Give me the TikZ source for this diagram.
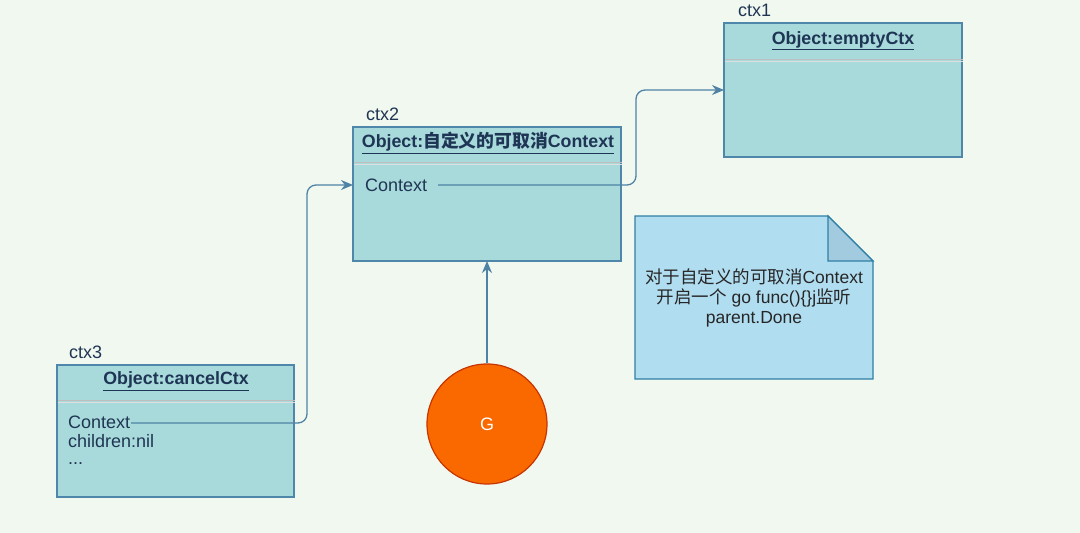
\documentclass[tikz,border=0pt]{standalone}
\usepackage{fontspec}
\setmainfont{Liberation Sans}
\newfontfamily\cjk{Noto Sans CJK SC}
\usetikzlibrary{arrows.meta}
\definecolor{bg}{HTML}{F1F8EF}
\definecolor{boxfill}{HTML}{A9DADB}
\definecolor{boxline}{HTML}{4F87AA}
\definecolor{titlecol}{HTML}{1E3555}
\definecolor{textcol}{HTML}{1F3553}
\definecolor{notefill}{HTML}{B1DDF0}
\definecolor{noteline}{HTML}{2F7FA6}
\definecolor{foldfill}{HTML}{A2CBDF}
\definecolor{gfill}{HTML}{FA6800}
\definecolor{gline}{HTML}{C73500}
\definecolor{conn}{HTML}{4E83A5}
\definecolor{sepdark}{HTML}{BEBEBE}
\definecolor{seplight}{HTML}{DEDEDE}
\tikzset{
  objbox/.style={draw=boxline, fill=boxfill, line width=1.2pt},
  sepline/.style={draw=sepdark, line width=1.6pt},
  seplite/.style={draw=seplight, line width=1.4pt},
  title/.style={font=\fontsize{17.8}{21}\selectfont\bfseries, text=titlecol, inner sep=0pt},
  field/.style={font=\fontsize{18}{21}\selectfont, text=textcol, inner sep=0pt, anchor=west},
  lbl/.style={font=\fontsize{18}{21}\selectfont, text=textcol, inner sep=0pt, anchor=west},
  conline/.style={draw=conn, line width=1.3pt, rounded corners=9pt},
  arr/.style={-{Stealth[length=12pt,width=10pt]}},
}
\begin{document}
\begin{tikzpicture}[x=1pt,y=-1pt]
\fill[bg] (0,0) rectangle (1080,533);
\useasboundingbox (0,0) rectangle (1080,533);

% ctx1
\draw[objbox] (724,23) rectangle (962,157);
\draw[sepline] (724.6,59.5) -- (962.6,59.5);
\draw[seplite] (724.6,61.2) -- (962.6,61.2);
\node[title] (t1) at (843,41) {\underline{Object:emptyCtx}};
\node[lbl] (l1) at (738,10) {ctx1};
\coordinate (c1in) at (724,90);

% ctx2
\draw[objbox] (353,127) rectangle (621,261);
\draw[sepline] (353.6,162.5) -- (621.6,162.5);
\draw[seplite] (353.6,164.2) -- (621.6,164.2);
\node[title] (t2) at (488,143) {\underline{Object:{\cjk\bfseries 自定义的可取消}Context}};
\node[lbl] (l2) at (366,114) {ctx2};
\node[field] (f2) at (365,185) {Context};
\coordinate (c2in) at (353,185);
\coordinate (c2bot) at (487,261);
\coordinate (c2out) at (438,185);

% ctx3
\draw[objbox] (57,365) rectangle (294,497);
\draw[sepline] (57.6,400.5) -- (294.6,400.5);
\draw[seplite] (57.6,402.2) -- (294.6,402.2);
\node[title] (t3) at (176,381) {\underline{Object:cancelCtx}};
\node[lbl] (l3) at (69,352) {ctx3};
\node[field] (f3) at (68,422) {Context};
\node[field] (f3b) at (68,441) {children:nil};
\node[field] (f3c) at (68,464) {...};
\coordinate (c3out) at (131,423);

% note
\draw[draw=noteline, fill=notefill, line width=1.2pt] (635,216) -- (828,216) -- (873,261) -- (873,379) -- (635,379) -- cycle;
\draw[draw=noteline, fill=foldfill, line width=1.2pt] (828,216) -- (828,261) -- (873,261) -- cycle;
\node[font=\fontsize{17.5}{20}\selectfont, text=black!85, align=center, inner sep=0pt] (note) at (754,298)
  {{\cjk 对于自定义的可取消}Context\\{\cjk 开启一个} go func()\{\}j{\cjk 监听}\\parent.Done};

% G
\node[circle, draw=gline, fill=gfill, line width=1.2pt, minimum size=120pt, inner sep=0pt,
  font=\fontsize{18}{21}\selectfont, text=white] (G) at (487,424) {G};

% connectors
\draw[conline, arr] (G.north) -- (c2bot);
\draw[conline, arr] (c3out) -- (307,423) -- (307,185) -- (c2in);
\draw[conline, arr] (c2out) -- (636,185) -- (636,90) -- (c1in);
\end{tikzpicture}
\end{document}
